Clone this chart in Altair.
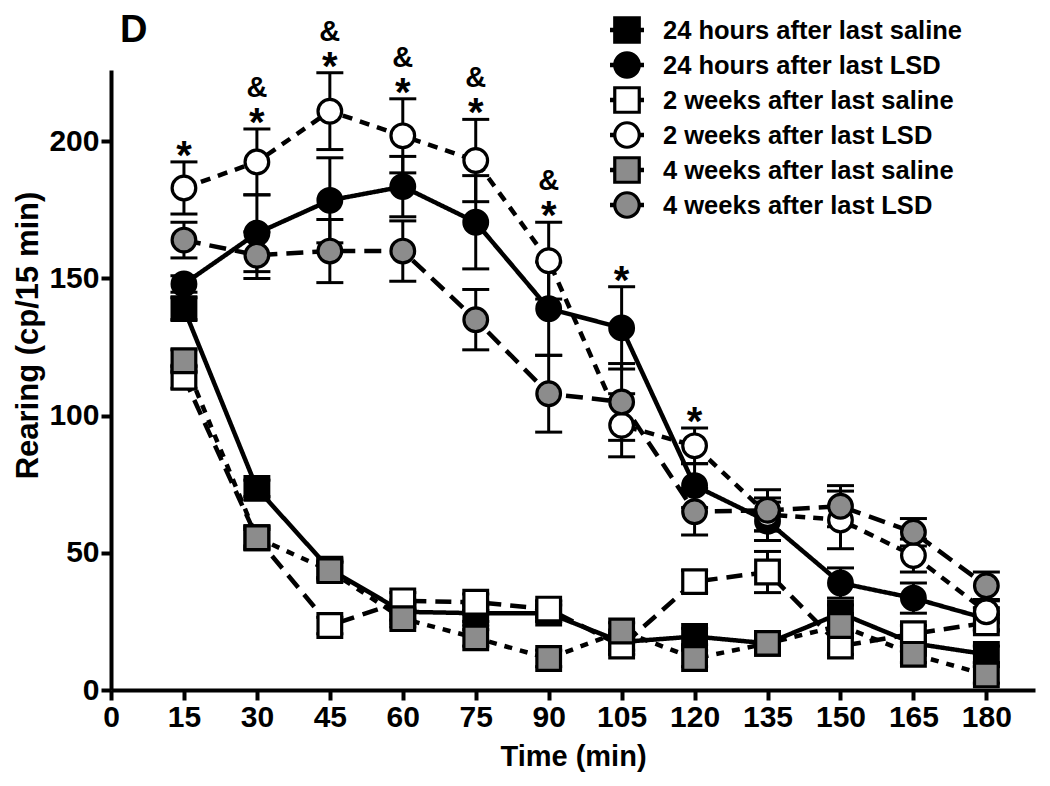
import altair as alt
import pandas as pd

times = [15, 30, 45, 60, 75, 90, 105, 120, 135, 150, 165, 180]
series_names = [
    "24 hours after last saline",
    "24 hours after last LSD",
    "2 weeks after last saline",
    "2 weeks after last LSD",
    "4 weeks after last saline",
    "4 weeks after last LSD",
]

sal24 = [139, 73.5, 44, 28.5, 28, 28, 17.5, 19.5, 17, 28, 17, 13]
sal24_err = [4, 3, 3, 3, 3, 3, 3, 3, 3, 3, 3, 3]
lsd24 = [148, 166.5, 178.5, 183.5, 170.5, 139, 132, 74.5, 61.5, 39, 33.5, 26]
lsd24_err = [3, 14, 15.5, 11, 17, 17, 15, 8, 7, 5.5, 5.5, 4]
sal2w = [114, 55.5, 23.5, 32.5, 32, 29.5, 16, 39.5, 43, 16, 20.5, 24.5]
sal2w_err = [4, 4, 3, 3, 3, 3, 3, 4, 7.5, 3, 3, 3]
lsd2w = [183, 192.5, 211, 202, 193, 156.5, 96.5, 89, 64, 62, 49, 28.5]
lsd2w_err = [9.5, 12, 14, 13.5, 15, 14, 11.5, 6.5, 6, 10.5, 6, 4]
sal4w = [120, 55.5, 43.5, 26, 19, 11.5, 21.5, 11.5, 17, 23.5, 13, 5.5]
sal4w_err = [4, 3, 3, 3, 3, 3, 3, 3, 3, 3, 3, 3]
lsd4w = [164, 158.5, 160, 160, 135, 108, 105, 65, 65.5, 67, 57.5, 38]
lsd4w_err = [6.5, 8.5, 11.5, 11, 11, 14, 14, 8.5, 7.5, 7.5, 5, 5]

star_times = [15, 30, 45, 60, 75, 90, 105, 120]
amp_times = [30, 45, 60, 75, 90]
panel_label = ["D"]

shapes = ["square", "circle", "square", "circle", "square", "circle"]
fills = ["black", "black", "white", "white", "#8c8c8c", "#8c8c8c"]
dashes = [[1, 0], [1, 0], [16, 9], [10, 8], [8, 8], [17, 9]]

all_vals = [sal24, lsd24, sal2w, lsd2w, sal4w, lsd4w]
all_errs = [sal24_err, lsd24_err, sal2w_err, lsd2w_err, sal4w_err, lsd4w_err]

rows = []
for i, (name, vals, errs) in enumerate(zip(series_names, all_vals, all_errs)):
    for t, v, e in zip(times, vals, errs):
        rows.append(dict(series=name, line_group=name, order=i, time=t, value=v,
                         lo=v - e, hi=v + e))
df = pd.DataFrame(rows)

top = df.groupby("time")["hi"].max()
stars = pd.DataFrame({"time": star_times, "y": [top[t] for t in star_times], "label": "*"})
amps = pd.DataFrame({"time": amp_times, "y": [top[t] for t in amp_times], "label": "&"})
legend_df = pd.DataFrame({"series": series_names})
label_df = pd.DataFrame({"label": panel_label})

FONT = "Liberation Sans"

xscale = alt.Scale(domain=[0, 190], nice=False, zero=False)
yscale = alt.Scale(domain=[0, 226], nice=False)

axis_style = dict(grid=False, labelFont=FONT, titleFont=FONT, labelFontWeight="bold",
                  titleFontWeight="bold", labelColor="black", titleColor="black",
                  domainColor="black", tickColor="black", tickSize=10, tickWidth=4,
                  domainWidth=4, labelFontSize=30)

X = alt.X("time:Q", scale=xscale,
          axis=alt.Axis(values=[0, 15, 30, 45, 60, 75, 90, 105, 120, 135, 150, 165, 180],
                        title="Time (min)", titleFontSize=29, labelPadding=2,
                        titlePadding=10, labelFlush=False, **axis_style))
Y = alt.Y("value:Q", scale=yscale,
          axis=alt.Axis(values=[0, 50, 100, 150, 200], title="Rearing (cp/15 min)",
                        titleFontSize=31, labelPadding=2, titlePadding=4,
                        titleY=265, **axis_style))

shape_scale = alt.Scale(domain=series_names, range=shapes)
fill_scale = alt.Scale(domain=series_names, range=fills)

base = alt.Chart(df)

lines = base.mark_line(strokeWidth=4.5, color="black").encode(
    x=X, y=Y,
    strokeDash=alt.StrokeDash("line_group:N",
                              scale=alt.Scale(domain=series_names, range=dashes),
                              legend=None),
)

bars = base.mark_rule(strokeWidth=3, color="black").encode(
    x="time:Q", y="lo:Q", y2="hi:Q"
)
cap_hi = base.mark_tick(orient="horizontal", size=27, thickness=3, color="black", opacity=1).encode(
    x="time:Q", y="hi:Q"
)
cap_lo = base.mark_tick(orient="horizontal", size=27, thickness=3, color="black", opacity=1).encode(
    x="time:Q", y="lo:Q"
)

points = base.mark_point(filled=True, size=560, stroke="black", strokeWidth=3.2, opacity=1).encode(
    x="time:Q", y="value:Q",
    shape=alt.Shape("series:N", scale=shape_scale, legend=None),
    fill=alt.Fill("series:N", scale=fill_scale, legend=None),
    order=alt.Order("order:Q"),
)

star_text = alt.Chart(stars).mark_text(
    font=FONT, fontWeight="bold", fontSize=40, baseline="alphabetic", dy=7, color="black"
).encode(x="time:Q", y="y:Q", text="label:N")

amp_text = alt.Chart(amps).mark_text(
    font=FONT, fontWeight="bold", fontSize=29, baseline="alphabetic", dy=-32, color="black"
).encode(x="time:Q", y="y:Q", text="label:N")

main = alt.layer(lines, bars, cap_hi, cap_lo, points, star_text, amp_text)

# Legend drawn as its own layer (rows placed by a point scale)
LY = alt.Y("series:N", scale=alt.Scale(type="point", domain=series_names,
                                       range=[-40, 135], padding=0), axis=None)
leg_base = alt.Chart(legend_df)
leg_stub = leg_base.mark_rule(strokeWidth=4.5, color="black").encode(
    x=alt.value(499), x2=alt.value(533), y=LY
)
leg_sym = leg_base.mark_point(filled=True, size=600, stroke="black", strokeWidth=3.2, opacity=1).encode(
    x=alt.value(516), y=LY,
    shape=alt.Shape("series:N", scale=shape_scale, legend=None),
    fill=alt.Fill("series:N", scale=fill_scale, legend=None),
)
leg_text = leg_base.mark_text(
    font=FONT, fontWeight="bold", fontSize=25.5, align="left", baseline="middle",
    color="black", dy=1
).encode(x=alt.value(552), y=LY, text="series:N")

panel = alt.Chart(label_df).mark_text(
    font=FONT, fontWeight="bold", fontSize=38, align="left", baseline="alphabetic",
    color="black"
).encode(x=alt.value(9), y=alt.value(-28), text="label:N")

legend_layer = alt.layer(leg_stub, leg_sym, leg_text, panel)

chart = alt.layer(main, legend_layer).resolve_scale(y="independent").properties(
    width=924, height=620,
    background="white",
    autosize=alt.AutoSizeParams(type="none"),
    padding={"left": 103, "top": 62, "right": 7, "bottom": 88},
).configure_view(stroke=None)

chart.save("out.html", embed_options={"renderer": "svg", "actions": False})
